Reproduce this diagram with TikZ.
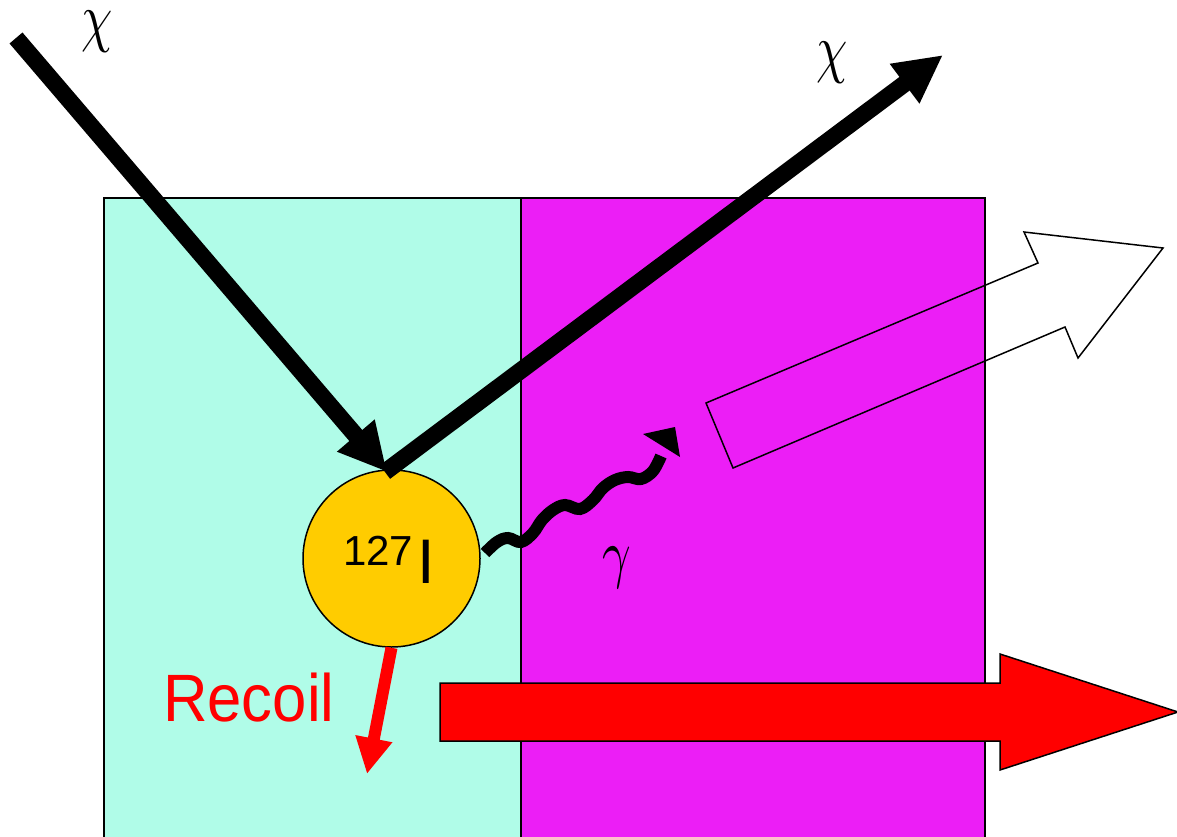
\documentclass[tikz,border=0pt]{standalone}
\usepackage{fontspec}
\setmainfont{Liberation Serif}
\newfontfamily\arialf{Liberation Sans}
\usetikzlibrary{arrows.meta}
\definecolor{cyanbg}{RGB}{176,252,232}
\definecolor{magbg}{RGB}{236,30,246}
\definecolor{nucyel}{RGB}{255,204,0}
\definecolor{recred}{RGB}{255,0,0}
\tikzset{
  panel/.style={draw=black, line width=1.5pt},
  particle/.style={draw=black, line width=17pt, line cap=butt, -{Triangle[length=48pt,width=46pt]}},
  recoilarrow/.style={draw=recred, line width=12pt, -{Triangle[length=36pt,width=35pt]}},
  greeklabel/.style={font=\normalsize, inner sep=0pt},
  wavy/.style={draw=black, line width=12pt},
  bigarrow/.style={draw=black, line width=1.5pt, line join=miter},
}
\begin{document}
\begin{tikzpicture}[x=1pt,y=-1pt]
\useasboundingbox (0,0) rectangle (1177,837);
\clip (0,0) rectangle (1177,837);
% panels
\fill[cyanbg] (104,198) rectangle (521,850);
\fill[magbg] (521,198) rectangle (985,850);
\draw[panel] (104,850) -- (104,198) -- (985,198) -- (985,850);
\draw[panel] (521,198) -- (521,850);
% nucleus
\node[draw=black, line width=1.5pt, fill=nucyel, circle, minimum size=177pt, inner sep=0pt] (nuc) at (391.5,558.5) {};
\node[font=\arialf\fontsize{42}{42}\selectfont, inner sep=0pt, anchor=base west] (mass) at (343,565) {127};
\node[font=\arialf\fontsize{63}{63}\selectfont, inner sep=0pt, anchor=base west] (elem) at (417,583) {I};
% incoming and outgoing WIMP
\coordinate (chiin) at (16,38);
\coordinate (hit) at (387,472);
\coordinate (hitout) at (385,472);
\coordinate (chiout) at (943,55);
\draw[particle] (chiin) -- (hit);
\draw[particle] (hitout) -- (chiout);
\node[greeklabel] (chia) at (97,32) {\scalebox{5}[6.6]{$\chi$}};
\node[greeklabel] (chib) at (832,63) {\scalebox{5}[6.6]{$\chi$}};
% gamma
\draw[wavy] plot[smooth, tension=0.6] coordinates {(485,553) (497,542) (508,538) (521,542) (533,533) (542,520) (553,510) (565,505) (580,509) (593,500) (603,488) (615,480) (628,477) (641,479) (653,471) (661,456)};
\fill[black] (643,434) -- (675,427) -- (680,457) -- cycle;
\node[greeklabel] (gam) at (617,568) {\scalebox{5}[6.6]{$\gamma$}};
% hollow arrow
\draw[bigarrow] (706,403) -- (1038,263) -- (1024,232) -- (1163,248) -- (1078,358) -- (1065,327) -- (733,468) -- cycle;
% recoil
\coordinate (recend) at (367,774);
\draw[recoilarrow] (nuc.south) -- (recend);
\node[font=\arialf\fontsize{67}{67}\selectfont, text=recred, inner sep=0pt, anchor=base west] (rec) at (163,721) {\scalebox{0.92}[1]{Recoil}};
% big red arrow
\fill[recred, draw=black, line width=1.5pt] (440,683) -- (1000,683) -- (1000,654) -- (1178,712) -- (1000,770) -- (1000,741) -- (440,741) -- cycle;
\end{tikzpicture}
\end{document}
